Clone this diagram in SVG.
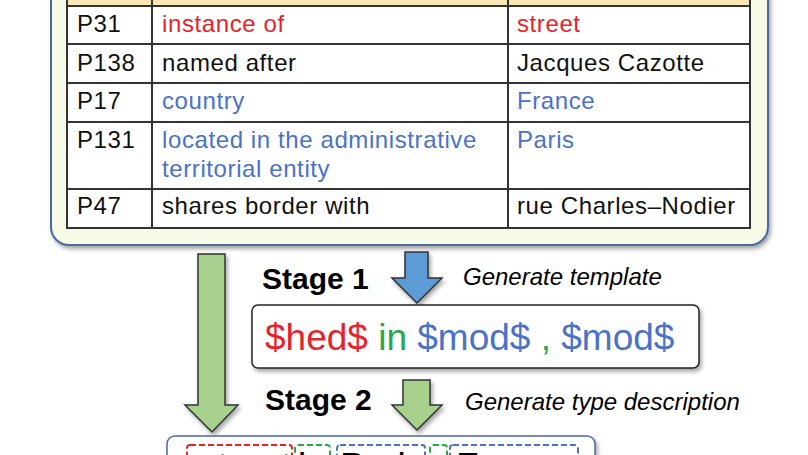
<svg xmlns="http://www.w3.org/2000/svg" width="808" height="455" viewBox="0 0 808 455">
<style>
.t{font-family:"Liberation Sans",Arial,sans-serif;font-size:24px;fill:#111;letter-spacing:0.6px}
.red{fill:#e8222b}
.blue{fill:#4a72c8}
.green{fill:#2aa84a}
.stage{font-family:"Liberation Sans",Arial,sans-serif;font-size:30px;font-weight:bold;fill:#000}
.desc{font-family:"Liberation Sans",Arial,sans-serif;font-size:24px;font-style:italic;fill:#000}
.tpl{font-family:"Liberation Sans",Arial,sans-serif;font-size:37px}
.grid{stroke:#333;stroke-width:2;fill:none}
.arrow{stroke:#333;stroke-width:1.5;stroke-linejoin:miter}
.dash{fill:none;stroke-width:2;stroke-dasharray:6 3}
</style>
<defs>
<filter id="sh" x="-10%" y="-10%" width="120%" height="130%">
<feDropShadow dx="2" dy="3" stdDeviation="2" flood-color="#000" flood-opacity="0.35"/>
</filter>
</defs>
<rect width="808" height="455" fill="#fff"/>
<g id="kb-table">
<rect x="51" y="-30" width="717" height="275" rx="18" fill="#f6fae6" stroke="#4a6a9c" stroke-width="2" filter="url(#sh)"/>
<rect x="67" y="-10" width="683" height="16" fill="#fbe7b5"/>
<rect x="67" y="6" width="683" height="222" fill="#fff"/>
<g class="grid">
<rect x="67" y="-10" width="683" height="238"/>
<line x1="67" y1="6" x2="750" y2="6"/>
<line x1="67" y1="44" x2="750" y2="44"/>
<line x1="67" y1="83" x2="750" y2="83"/>
<line x1="67" y1="122" x2="750" y2="122"/>
<line x1="67" y1="189" x2="750" y2="189"/>
<line x1="152" y1="-10" x2="152" y2="228"/>
<line x1="508" y1="-10" x2="508" y2="228"/>
</g>
<text class="t" x="77" y="32">P31</text>
<text class="t red" x="162" y="32">instance of</text>
<text class="t red" x="517" y="32">street</text>
<text class="t" x="77" y="71">P138</text>
<text class="t" x="162" y="71">named after</text>
<text class="t" x="517" y="71">Jacques Cazotte</text>
<text class="t" x="77" y="109">P17</text>
<text class="t blue" x="162" y="109">country</text>
<text class="t blue" x="517" y="109">France</text>
<text class="t" x="77" y="148">P131</text>
<text class="t blue" x="162" y="148">located in the administrative</text>
<text class="t blue" x="162" y="177">territorial entity</text>
<text class="t blue" x="517" y="148">Paris</text>
<text class="t" x="77" y="214">P47</text>
<text class="t" x="162" y="214">shares border with</text>
<text class="t" x="517" y="214">rue Charles–Nodier</text>
</g>
<g id="connectors">
<path class="arrow" d="M198,254 H225 V405 H238 L212,432 L185,405 H198 Z" fill="#a9d18e" filter="url(#sh)"/>
<path class="arrow" d="M405,252 H428 V278 H442 L417,303 L392,278 H405 Z" fill="#5b9bd5" filter="url(#sh)"/>
<path class="arrow" d="M403,380 H430 V405 H442 L417,430 L392,405 H403 Z" fill="#a9d18e" filter="url(#sh)"/>
</g>
<g id="stage1">
<text class="stage" x="262" y="289">Stage 1</text>
<text class="desc" x="463" y="285">Generate template</text>
</g>
<g id="template">
<rect x="252" y="305" width="447" height="63" rx="6" fill="#fff" stroke="#222" stroke-width="1.5" filter="url(#sh)"/>
<text class="tpl" x="265" y="350"><tspan class="red">$hed$</tspan> <tspan class="green">in</tspan> <tspan class="blue">$mod$</tspan> <tspan class="green">,</tspan> <tspan class="blue">$mod$</tspan></text>
</g>
<g id="stage2">
<text class="stage" x="265" y="410">Stage 2</text>
<text class="desc" x="465" y="410">Generate type description</text>
</g>
<g id="output">
<rect x="167" y="436" width="428" height="60" rx="8" fill="#fff" stroke="#4a6a9c" stroke-width="1.5" filter="url(#sh)"/>
<rect class="dash" x="187" y="445" width="105" height="40" rx="3" stroke="#e8222b"/>
<rect class="dash" x="295" y="445" width="35" height="40" rx="3" stroke="#2aa84a"/>
<rect class="dash" x="337" y="445" width="88" height="40" rx="3" stroke="#4a72c8"/>
<rect class="dash" x="430" y="445" width="17" height="40" rx="3" stroke="#2aa84a"/>
<rect class="dash" x="450" y="445" width="128" height="40" rx="3" stroke="#4a72c8"/>
<text class="tpl" x="199" y="479" fill="#000">street</text>
<text class="tpl" x="298" y="479" fill="#000">in</text>
<text class="tpl" x="340" y="479" fill="#000">Paris</text>
<text class="tpl" x="432" y="479" fill="#000">,</text>
<text class="tpl" x="456" y="479" fill="#000">France</text>
</g>
</svg>
